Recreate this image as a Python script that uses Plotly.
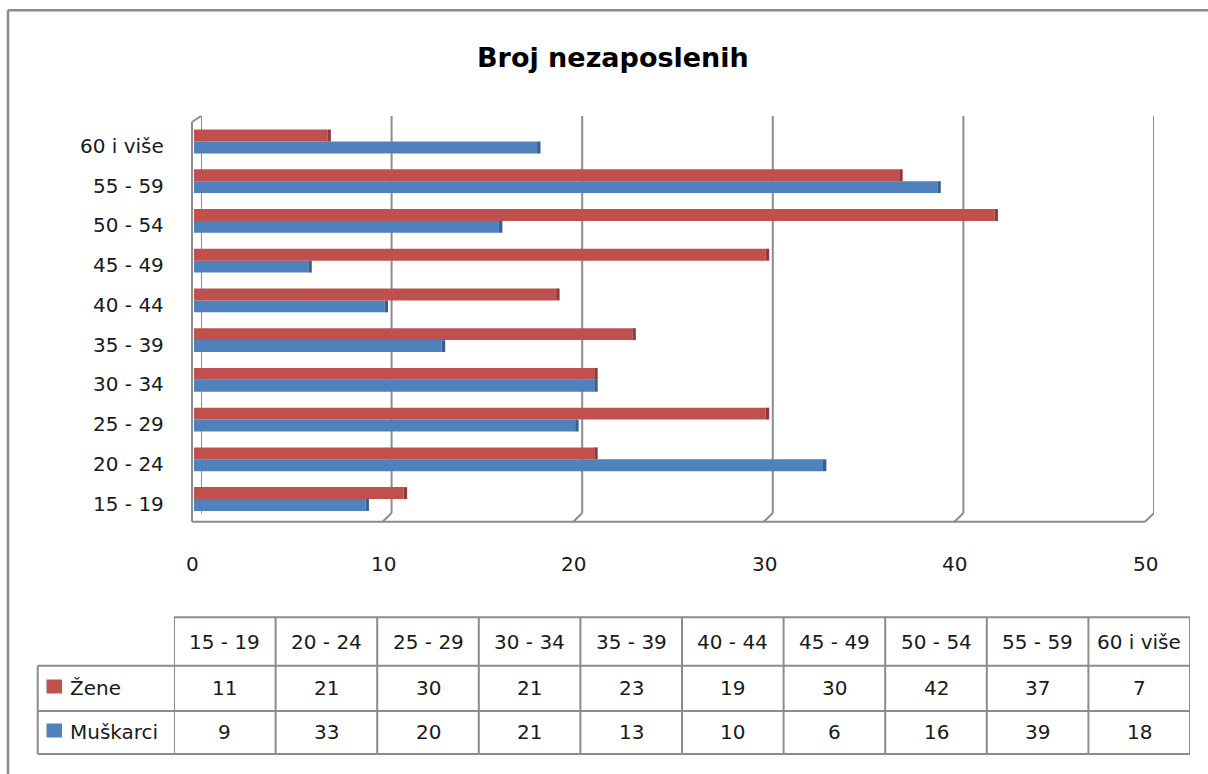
import plotly.graph_objects as go

# ---------------- data ----------------
categories = ["15 - 19", "20 - 24", "25 - 29", "30 - 34", "35 - 39",
              "40 - 44", "45 - 49", "50 - 54", "55 - 59", "60 i više"]
zene = [11, 21, 30, 21, 23, 19, 30, 42, 37, 7]
muskarci = [9, 33, 20, 21, 13, 10, 6, 16, 39, 18]
x_ticks = [0, 10, 20, 30, 40, 50]
title_text = "Broj nezaposlenih"
name_zene = "Žene"
name_muskarci = "Muškarci"

# ---------------- style ----------------
W, H = 1208, 774
RED, RED_END = "#C0504D", "#8F3A38"
BLUE, BLUE_END = "#4F81BD", "#38608F"
GRID = "#8C8C8C"
TXT = "#1a1a1a"
FONT = "DejaVu Sans"
END_W = 0.18  # width of the shaded bar end (3D look), in axis units


def px(x):
    return x / W


def py(y):
    return 1 - y / H


# 3D box geometry (pixels)
BACK_L, BACK_R, BACK_T, BACK_B = 201, 1154, 116, 513
DX, FRONT_B = -9, 521.7

fig = go.Figure()

# dummy invisible traces so all subplots exist
for xa, ya in (("x", "y"), ("x3", "y3")):
    fig.add_trace(go.Scatter(x=[0], y=[0], xaxis=xa, yaxis=ya, mode="markers",
                             marker=dict(opacity=0), hoverinfo="skip", showlegend=False))

# bars (on x2/y2 so they are drawn above the back-wall grid)
for name, vals, col, endcol, grp in ((name_muskarci, muskarci, BLUE, BLUE_END, "m"),
                                      (name_zene, zene, RED, RED_END, "z")):
    fig.add_trace(go.Bar(y=categories, x=vals, orientation="h", name=name,
                         marker=dict(color=col, line=dict(width=0)),
                         offsetgroup=grp, xaxis="x2", yaxis="y2", showlegend=False))
    fig.add_trace(go.Bar(y=categories, x=[END_W] * len(vals), base=vals, orientation="h",
                         marker=dict(color=endcol, line=dict(width=0)),
                         offsetgroup=grp, xaxis="x2", yaxis="y2", showlegend=False,
                         hoverinfo="skip"))

shapes = []
annotations = []

# outer border (top and left)
shapes.append(dict(type="line", xref="paper", yref="paper", x0=px(8), x1=1.02,
                   y0=py(10.3), y1=py(10.3), line=dict(color="#8A8A8A", width=2.5)))
shapes.append(dict(type="line", xref="paper", yref="paper", x0=px(8), x1=px(8),
                   y0=py(10.3), y1=-0.02, line=dict(color="#8A8A8A", width=2.5)))

# back-wall grid lines + floor diagonals
for v in x_ticks:
    shapes.append(dict(type="line", xref="x", yref="y", x0=v, x1=v, y0=0, y1=1,
                       line=dict(color=GRID, width=2), layer="below"))
    shapes.append(dict(type="line", xref="x", xsizemode="pixel", xanchor=v, x0=0, x1=DX,
                       yref="paper", y0=py(BACK_B), y1=py(FRONT_B),
                       line=dict(color=GRID, width=2), layer="below"))
# floor front edge
shapes.append(dict(type="line", xref="paper", yref="paper", x0=px(BACK_L + DX), x1=px(BACK_R + DX),
                   y0=py(FRONT_B), y1=py(FRONT_B), line=dict(color=GRID, width=2), layer="below"))
# left wall front edge + top diagonal
shapes.append(dict(type="line", xref="paper", yref="paper", x0=px(BACK_L + DX), x1=px(BACK_L + DX),
                   y0=py(122), y1=py(FRONT_B), line=dict(color=GRID, width=2), layer="below"))
shapes.append(dict(type="line", xref="paper", yref="paper", x0=px(BACK_L + DX), x1=px(BACK_L),
                   y0=py(122), y1=py(BACK_T), line=dict(color=GRID, width=2), layer="below"))

# title
annotations.append(dict(text=title_text, xref="paper", yref="paper", x=px(612.5), y=py(57),
                        xanchor="center", yanchor="middle", showarrow=False,
                        font=dict(family=FONT, size=27, color="#000000", weight="bold")))

# y category labels
for c in categories:
    annotations.append(dict(text=c, xref="paper", yref="y2", x=px(166), y=c, yshift=-4.5,
                            xanchor="right", yanchor="middle", showarrow=False,
                            font=dict(family=FONT, size=20, color=TXT)))
# x tick labels
for v in x_ticks:
    annotations.append(dict(text=str(v), xref="x", yref="paper", x=v, xshift=DX + 0.5, y=py(564),
                            xanchor="center", yanchor="middle", showarrow=False,
                            font=dict(family=FONT, size=20, color=TXT)))

# ---------------- data table ----------------
T_TOP, R1, R2, T_BOT = 617.3, 665.7, 711, 754
LEG_L = 37.7
tl = dict(color=GRID, width=2)
shapes.append(dict(type="line", xref="x3", yref="paper", x0=-0.5, x1=len(categories) - 0.5,
                   y0=py(T_TOP), y1=py(T_TOP), line=tl))
for yy in (R1, R2, T_BOT):
    shapes.append(dict(type="line", xref="paper", yref="paper", x0=px(LEG_L), x1=px(1190),
                       y0=py(yy), y1=py(yy), line=tl))
shapes.append(dict(type="line", xref="paper", yref="paper", x0=px(LEG_L), x1=px(LEG_L),
                   y0=py(R1), y1=py(T_BOT), line=tl))
for k in range(len(categories) + 1):
    shapes.append(dict(type="line", xref="x3", yref="paper", x0=k - 0.5, x1=k - 0.5,
                       y0=py(T_TOP), y1=py(T_BOT), line=tl))

for j, c in enumerate(categories):
    annotations.append(dict(text=c, xref="x3", yref="paper", x=j, y=py(641.5),
                            xanchor="center", yanchor="middle", showarrow=False,
                            font=dict(family=FONT, size=20, color=TXT)))

rows = ((name_zene, zene, RED, 688), (name_muskarci, muskarci, BLUE, 732))
for name, vals, col, yc in rows:
    for j, v in enumerate(vals):
        annotations.append(dict(text=str(v), xref="x3", yref="paper", x=j, y=py(yc),
                                xanchor="center", yanchor="middle", showarrow=False,
                                font=dict(family=FONT, size=20, color=TXT)))
    annotations.append(dict(text=name, xref="paper", yref="paper", x=px(68), y=py(yc),
                            xanchor="left", yanchor="middle", showarrow=False,
                            font=dict(family=FONT, size=20, color=TXT)))
    shapes.append(dict(type="rect", xref="paper", yref="paper", x0=px(46.5), x1=px(62),
                       y0=py(yc - 8.5), y1=py(yc + 5.5), fillcolor=col, line=dict(width=0)))

fig.update_layout(
    width=W, height=H, autosize=False,
    margin=dict(l=0, r=0, t=0, b=0),
    paper_bgcolor="white", plot_bgcolor="rgba(0,0,0,0)",
    showlegend=False,
    barmode="group", bargap=0.4, bargroupgap=0,
    xaxis=dict(domain=[px(BACK_L), px(BACK_R)], range=[0, 50], visible=False,
               anchor="y", fixedrange=True),
    yaxis=dict(domain=[py(BACK_B), py(BACK_T)], range=[0, 1], visible=False,
               anchor="x", fixedrange=True),
    xaxis2=dict(domain=[px(194), px(1147)], range=[0, 50], visible=False,
                anchor="y2", fixedrange=True),
    yaxis2=dict(domain=[py(518.9), py(121.6)], range=[-0.5, len(categories) - 0.5],
                type="category", categoryorder="array", categoryarray=categories,
                visible=False, anchor="x2", fixedrange=True),
    xaxis3=dict(domain=[px(174), px(1190)], range=[-0.5, len(categories) - 0.5],
                visible=False, anchor="y3", fixedrange=True),
    yaxis3=dict(domain=[py(T_BOT), py(T_TOP)], range=[0, 1], visible=False,
                anchor="x3", fixedrange=True),
    shapes=shapes,
    annotations=annotations,
)

fig.write_html("out.html", config={"displayModeBar": False},
               post_script="document.body.style.margin='0';document.body.style.overflow='hidden';")
